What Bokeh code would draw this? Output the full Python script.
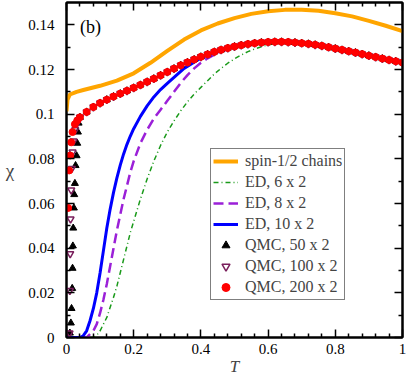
from bokeh.plotting import figure
from bokeh.models import (LinearAxis, FixedTicker, Legend, LegendItem, Label,
                          CustomLabelingPolicy)
from bokeh.embed import file_html
from bokeh.resources import INLINE

# ---------------- data ----------------
# spin-1/2 chain (orange)
T_chain = [0.0, 0.003, 0.01, 0.03, 0.05, 0.10, 0.15, 0.20, 0.25, 0.30, 0.35, 0.40, 0.45,
           0.50, 0.55, 0.60, 0.65, 0.70, 0.75, 0.80, 0.85, 0.90, 0.95, 1.00]
chi_chain = [0.1013, 0.1065, 0.1088, 0.1100, 0.1108, 0.1127, 0.1150, 0.1183, 0.1230, 0.1283,
             0.1334, 0.1375, 0.1406, 0.1430, 0.1449, 0.1461, 0.1467, 0.1468, 0.1463, 0.1452,
             0.1438, 0.1418, 0.1396, 0.1372]

# ED 6 x 2 (green dash-dot)
T_ed6 = [0.0, 0.08, 0.09, 0.10, 0.11, 0.12, 0.13, 0.14, 0.15, 0.16, 0.17, 0.18, 0.19, 0.20,
         0.22, 0.24, 0.26, 0.28, 0.30, 0.32, 0.34, 0.36, 0.38, 0.40, 0.42, 0.44, 0.46, 0.48,
         0.50, 0.52, 0.54, 0.56, 0.58, 0.60, 0.62, 0.64, 0.66, 0.70, 0.75, 0.80, 0.85, 0.90,
         0.95, 1.00]
chi_ed6 = [0.0, 0.0, 0.001, 0.003, 0.006, 0.009, 0.0135, 0.018, 0.023, 0.029, 0.035, 0.041,
           0.047, 0.052, 0.062, 0.071, 0.079, 0.086, 0.092, 0.097, 0.1015, 0.1055, 0.109,
           0.112, 0.115, 0.118, 0.1205, 0.1228, 0.1248, 0.1265, 0.128, 0.1292, 0.1302, 0.131,
           0.1316, 0.132, 0.1321, 0.1317, 0.1308, 0.1293, 0.1275, 0.1261, 0.1248, 0.1230]

# ED 8 x 2 (purple dashed)
T_ed8 = [0.0, 0.06, 0.07, 0.08, 0.09, 0.10, 0.11, 0.12, 0.13, 0.14, 0.15, 0.16, 0.17, 0.18,
         0.19, 0.20, 0.22, 0.24, 0.26, 0.28, 0.30, 0.32, 0.34, 0.36, 0.38, 0.40, 0.42, 0.45,
         0.50, 0.55, 0.60, 0.65, 0.70, 0.75, 0.80, 0.85, 0.90, 0.95, 1.00]
chi_ed8 = [0.0, 0.0, 0.0015, 0.003, 0.006, 0.011, 0.017, 0.024, 0.032, 0.040, 0.048, 0.055,
           0.062, 0.068, 0.074, 0.079, 0.087, 0.093, 0.098, 0.102, 0.106, 0.110, 0.114,
           0.1175, 0.1205, 0.123, 0.125, 0.1275, 0.1300, 0.1315, 0.1322, 0.1323, 0.1318,
           0.1308, 0.1293, 0.1275, 0.1261, 0.1248, 0.1230]

# ED 10 x 2 (blue solid)
T_ed10 = [0.0, 0.04, 0.05, 0.06, 0.07, 0.08, 0.09, 0.10, 0.11, 0.12, 0.13, 0.14, 0.15, 0.16,
          0.17, 0.18, 0.19, 0.20, 0.22, 0.24, 0.26, 0.28, 0.30, 0.35, 0.40, 0.45, 0.50, 0.55,
          0.60, 0.65, 0.70, 0.75, 0.80, 0.85, 0.90, 0.95, 1.00]
chi_ed10 = [0.0, 0.0, 0.0008, 0.003, 0.0075, 0.013, 0.020, 0.029, 0.039, 0.049, 0.0575, 0.065,
            0.0715, 0.0772, 0.0822, 0.0865, 0.0902, 0.0935, 0.0990, 0.1037, 0.1077, 0.111,
            0.1138, 0.1205, 0.1252, 0.1283, 0.1302, 0.1316, 0.1323, 0.1323, 0.1318, 0.1308,
            0.1293, 0.1275, 0.1261, 0.1248, 0.1230]

# QMC, common high-temperature part (all three sizes agree)
T_qmc_hi = [0.04, 0.06, 0.08, 0.10, 0.12, 0.14, 0.16, 0.18, 0.20, 0.22, 0.24, 0.26, 0.28,
            0.30, 0.32, 0.34, 0.36, 0.38, 0.40, 0.42, 0.44, 0.46, 0.48, 0.50, 0.52, 0.54,
            0.56, 0.58, 0.60, 0.62, 0.64, 0.66, 0.68, 0.70, 0.72, 0.74, 0.76, 0.78, 0.80,
            0.82, 0.84, 0.86, 0.88, 0.90, 0.92, 0.94, 0.96, 0.98, 1.00]
chi_qmc_hi = [0.0986, 0.1010, 0.1032, 0.1050, 0.1065, 0.1079, 0.1092, 0.1105, 0.1118, 0.1131,
              0.1145, 0.1159, 0.1174, 0.1189, 0.1204, 0.1219, 0.1232, 0.1245, 0.1257, 0.1268,
              0.1279, 0.1288, 0.1296, 0.1303, 0.1309, 0.1314, 0.1318, 0.1321, 0.1323, 0.1324,
              0.1324, 0.1323, 0.1321, 0.1318, 0.1315, 0.1311, 0.1306, 0.1300, 0.1294, 0.1288,
              0.1282, 0.1276, 0.1269, 0.1262, 0.1256, 0.1249, 0.1243, 0.1237, 0.1231]

# QMC 50 x 2, low-temperature part (black up triangles)
T_q50_lo = [0.010, 0.013, 0.015, 0.017, 0.018, 0.019, 0.020, 0.022, 0.023, 0.025, 0.027,
            0.030, 0.032, 0.034, 0.036]
chi_q50_lo = [0.002, 0.0065, 0.013, 0.022, 0.031, 0.041, 0.049, 0.058, 0.064, 0.069, 0.077,
              0.0814, 0.087, 0.092, 0.096]

# QMC 100 x 2, low-temperature part (open down triangles)
T_q100_lo = [0.009, 0.010, 0.011, 0.012, 0.014, 0.016, 0.018, 0.021, 0.026, 0.032]
chi_q100_lo = [0.002, 0.021, 0.0375, 0.053, 0.066, 0.0757, 0.083, 0.088, 0.093, 0.096]

# QMC 200 x 2, low-temperature part (red circles)
T_q200_lo = [0.005, 0.008, 0.011, 0.014, 0.018, 0.025, 0.032]
chi_q200_lo = [0.058, 0.0748, 0.0815, 0.0874, 0.092, 0.0955, 0.0972]

x_ticks = [0.0, 0.2, 0.4, 0.6, 0.8, 1.0]
x_tick_labels = ["0", "0.2", "0.4", "0.6", "0.8", "1"]
x_minor = [0.04, 0.08, 0.12, 0.16, 0.24, 0.28, 0.32, 0.36, 0.44, 0.48, 0.52, 0.56,
           0.64, 0.68, 0.72, 0.76, 0.84, 0.88, 0.92, 0.96]
y_ticks = [0.0, 0.02, 0.04, 0.06, 0.08, 0.10, 0.12, 0.14]
y_tick_labels = ["0", "0.02", "0.04", "0.06", "0.08", "0.1", "0.12", "0.14"]
y_minor = [0.01, 0.03, 0.05, 0.07, 0.09, 0.11, 0.13]

legend_labels = ["spin-1/2 chains", "ED, 6 x 2", "ED, 8 x 2", "ED, 10 x 2",
                 "QMC, 50 x 2", "QMC, 100 x 2", "QMC, 200 x 2"]

# ---------------- figure ----------------
FONT = "Liberation Serif"

p = figure(width=407, height=379, x_range=(0, 1), y_range=(0, 0.15),
           output_backend="svg", toolbar_location=None,
           min_border_left=66, min_border_right=5, min_border_top=2, min_border_bottom=42)
p.xgrid.visible = False
p.ygrid.visible = False
p.outline_line_color = "black"
p.outline_line_width = 2
p.background_fill_color = "white"
p.border_fill_color = "white"

xt = FixedTicker(ticks=x_ticks, minor_ticks=x_minor)
yt = FixedTicker(ticks=y_ticks, minor_ticks=y_minor)

hide_labels = CustomLabelingPolicy(code="""
const n = indices.size;
for (let i = 0; i < n; i++) {
  if (typeof indices.unset === 'function') { indices.unset(i) } else { indices.set(i, false) }
}
return indices;
""")

def style_axis(ax, ticker, show_labels):
    ax.ticker = ticker
    ax.axis_line_width = 2
    ax.major_tick_in = 8
    ax.major_tick_out = 0
    ax.minor_tick_in = 4
    ax.minor_tick_out = 0
    ax.major_tick_line_width = 1.5
    ax.minor_tick_line_width = 1.5
    ax.major_label_text_font = FONT
    ax.major_label_text_font_size = "15px"
    ax.major_label_text_color = "black"
    ax.axis_label_text_font = FONT
    if not show_labels:
        ax.major_label_policy = hide_labels
        ax.major_label_text_font_size = "0px"
        ax.major_label_standoff = 0

xa = p.xaxis[0]
style_axis(xa, xt, True)
xa.major_label_overrides = {t: s for t, s in zip(x_ticks, x_tick_labels)}
xa.major_label_standoff = 6
xa.axis_label = "T"
xa.axis_label_text_font_style = "italic"
xa.axis_label_text_font_size = "17px"
xa.axis_label_standoff = 0

ya = p.yaxis[0]
style_axis(ya, yt, True)
ya.major_label_overrides = {t: s for t, s in zip(y_ticks, y_tick_labels)}
ya.major_label_standoff = 12
ya.axis_label = "χ"
ya.axis_label_orientation = "horizontal"
ya.axis_label_text_font_style = "normal"
ya.axis_label_text_font_size = "19px"
ya.axis_label_standoff = 11

top_ax = LinearAxis()
style_axis(top_ax, xt, False)
p.add_layout(top_ax, "above")
right_ax = LinearAxis()
style_axis(right_ax, yt, False)
p.add_layout(right_ax, "right")

# ---------------- glyphs ----------------
r_chain = p.line(T_chain, chi_chain, line_color="#FFA500", line_width=4)
r_ed6 = p.line(T_ed6, chi_ed6, line_color="#1a9a1a", line_width=1.5, line_dash="5 3 1 3")
r_ed8 = p.line(T_ed8, chi_ed8, line_color="#9b20d8", line_width=2.5, line_dash="10 5")
r_ed10 = p.line(T_ed10, chi_ed10, line_color="#0000FF", line_width=3)

T_q50 = T_q50_lo + T_qmc_hi
chi_q50 = chi_q50_lo + chi_qmc_hi
T_q100 = T_q100_lo + T_qmc_hi
chi_q100 = chi_q100_lo + chi_qmc_hi
T_q200 = T_q200_lo + T_qmc_hi
chi_q200 = chi_q200_lo + chi_qmc_hi

r_q50 = p.scatter(T_q50, chi_q50, marker="triangle", size=7, fill_color="black",
                  line_color="black")
r_q100 = p.scatter(T_q100, chi_q100, marker="inverted_triangle", size=7, fill_color=None,
                   line_color="#7a1f5c", line_width=1.5)
r_q200 = p.scatter(T_q200, chi_q200, marker="circle", size=7, fill_color="#FF0000",
                   line_color="#FF0000")

legend = Legend(items=[
    LegendItem(label=legend_labels[0], renderers=[r_chain]),
    LegendItem(label=legend_labels[1], renderers=[r_ed6]),
    LegendItem(label=legend_labels[2], renderers=[r_ed8]),
    LegendItem(label=legend_labels[3], renderers=[r_ed10]),
    LegendItem(label=legend_labels[4], renderers=[r_q50]),
    LegendItem(label=legend_labels[5], renderers=[r_q100]),
    LegendItem(label=legend_labels[6], renderers=[r_q200]),
], location=(144, 37))
legend.label_text_font = FONT
legend.label_text_font_size = "16px"
legend.glyph_width = 25
legend.glyph_height = 20
legend.label_height = 20
legend.spacing = 1
legend.padding = 2
legend.margin = 0
legend.label_standoff = 7
legend.border_line_color = "black"
legend.border_line_width = 1.5
legend.background_fill_color = "white"
legend.background_fill_alpha = 1.0
p.add_layout(legend, "center")

lab = Label(x=0.04, y=0.1345, text="(b)", text_font=FONT, text_font_size="18px",
            text_color="black")
p.add_layout(lab)

open("out.html", "w").write(file_html(p, INLINE))
